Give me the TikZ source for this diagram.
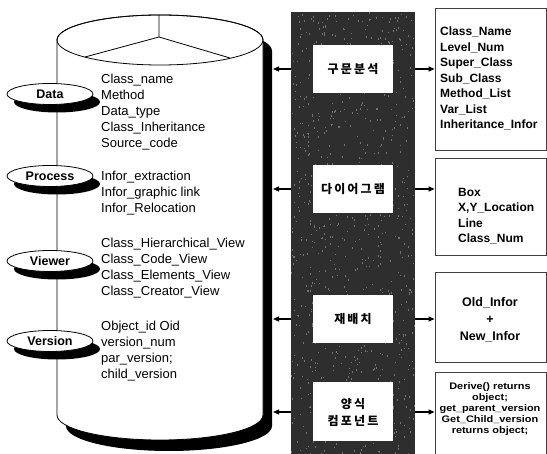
\documentclass[tikz,border=0pt]{standalone}
\usepackage{fontspec}
\setmainfont{Liberation Sans}
\newfontfamily\kofont{Noto Sans CJK KR}[LetterSpace=18]
\newfontfamily\widefont{Liberation Sans}[FakeStretch=1.15]
\usetikzlibrary{shapes.geometric,arrows.meta,shadows}

\begin{document}
\begin{tikzpicture}[x=1pt,y=-1pt,
    tag/.style={ellipse,draw,thick,fill=white,minimum width=86pt,minimum height=21pt,inner sep=0pt,
        drop shadow={shadow xshift=7pt,shadow yshift=-8pt,fill=black,opacity=1},
        font=\bfseries\fontsize{12.5}{12}\selectfont},
    list/.style={anchor=west,align=left,inner sep=0pt,font=\fontsize{13}{16}\selectfont},
    kbox/.style={fill=white,minimum width=80pt,minimum height=48pt,inner sep=0pt,align=center,font=\kofont\bfseries\fontsize{12}{17}\selectfont},
    rbox/.style={draw=black!75,line width=0.8pt,fill=white,minimum width=111pt,inner sep=0pt},
    rtext/.style={align=left,inner sep=0pt,font=\bfseries\fontsize{12}{15.5}\selectfont},
    arr/.style={-{Triangle[length=6pt,width=5pt]},line width=1.1pt}]

    \useasboundingbox (0,0) rectangle (547,454);

    % cylinder and its shadow
    \fill[black,shift={(9,11)}] (57,40) -- (57,415) arc[start angle=180,end angle=0,x radius=103,y radius=25]
        -- (263,40) arc[start angle=0,end angle=-180,x radius=103,y radius=25] -- cycle;
    \filldraw[fill=white,thick] (57,40) -- (57,415) arc[start angle=180,end angle=0,x radius=103,y radius=25]
        -- (263,40) arc[start angle=0,end angle=-180,x radius=103,y radius=25] -- cycle;
    \draw[thick] (160,40) ellipse[x radius=103,y radius=25];
    \draw[thick] (159,15) -- (159,37) -- (85,57) (159,37) -- (230,58);
    \coordinate (cylE) at (273,0);

    % tags on the left edge
    \foreach \name/\y in {Data/94,Process/176,Viewer/261,Version/341}
        \node[tag] (t\name) at (50,\y) {\name};

    \node[list] (lData) at (101,112) {Class\_name\\Method\\Data\_type\\Class\_Inheritance\\Source\_code};
    \node[list] (lProcess) at (101,193) {Infor\_extraction\\Infor\_graphic link\\Infor\_Relocation};
    \node[list] (lViewer) at (101,268) {Class\_Hierarchical\_View\\Class\_Code\_View\\Class\_Elements\_View\\Class\_Creator\_View};
    \node[list] (lVersion) at (101,351) {Object\_id Oid\\version\_num\\par\_version;\\child\_version};

    % dark band
    \node[fill=black!82,minimum width=124pt,minimum height=450pt,inner sep=0pt] (band) at (353,237) {};
    \pgfmathsetseed{7}
    \foreach \i in {1,...,900}
        \fill[black!55] (291+123*rnd,12+442*rnd) rectangle ++(1,1.5);
    \node[kbox] (k1) at (353,69) {구문분석};
    \node[kbox] (k2) at (353,189) {다이어그램};
    \node[kbox] (k3) at (353,319) {재배치};
    \node[kbox,minimum height=59pt] (k4) at (353,412) {양식\\컴포넌트};

    % boxes on the right
    \node[rbox,minimum height=142pt] (r1) at (490.5,79) {};
    \node[rbox,minimum height=97pt] (r2) at (490.5,206.5) {};
    \node[rbox,minimum height=90pt] (r3) at (490.5,317) {};
    \node[rbox,minimum height=88pt] (r4) at (490.5,416) {};

    \node[rtext,anchor=west] (x1) at (440,78.5) {Class\_Name\\Level\_Num\\Super\_Class\\Sub\_Class\\Method\_List\\Var\_List\\Inheritance\_Infor};
    \node[rtext,anchor=west] (x2) at (458,216) {Box\\X,Y\_Location\\Line\\Class\_Num};
    \node[rtext,align=center,font=\bfseries\fontsize{12.5}{17}\selectfont] (x3) at (490,320) {Old\_Infor\\+\\New\_Infor};
    \node[rtext,align=center,font=\widefont\bfseries\fontsize{9.5}{11}\selectfont] (x4) at (490,409) {Derive() returns\\object;\\get\_parent\_version\\Get\_Child\_version\\returns object;};

    % connectors
    \foreach \k/\r in {k1/r1,k2/r2,k3/r3,k4/r4} {
        \draw[arr] (\k -| band.west) -- (\k -| cylE);
        \draw[arr] (\k -| band.east) -- (\k -| \r.west);
    }

\end{tikzpicture}
\end{document}
